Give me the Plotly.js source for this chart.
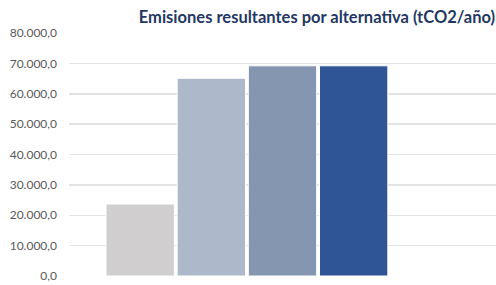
<!DOCTYPE html>
<html>
<head>
<meta charset="utf-8">
<script src="https://cdn.plot.ly/plotly-3.0.1.min.js"></script>
<style>html,body{margin:0;padding:0;background:#fff}#chart{width:496px;height:285px}</style>
</head>
<body>
<div id="chart"></div>
<script>
const categories = ["Alternativa 1", "Alternativa 2", "Alternativa 3", "Alternativa 4"];
const values = [23700, 65100, 69200, 69200];
const colors = ["#d0cece", "#adb9ca", "#8496b0", "#2f5597"];
const yTicks = [0, 10000, 20000, 30000, 40000, 50000, 60000, 70000, 80000];

const trace = {
  type: "bar",
  x: categories.map((c, i) => i),
  y: values,
  text: categories,
  hoverinfo: "text+y",
  textposition: "none",
  width: 0.96,
  marker: { color: colors, line: { color: "#ffffff", width: 1 } }
};

const layout = {
  width: 496, height: 285,
  margin: { l: 69, r: 0, t: 33, b: 9, pad: 0 },
  paper_bgcolor: "#ffffff", plot_bgcolor: "#ffffff",
  separators: ",.",
  font: { family: "Lato, 'Open Sans', sans-serif", size: 11, color: "#595959" },
  title: {
    text: "<b>Emisiones resultantes por alternativa (tCO2/año)</b>",
    font: { family: "Lato, 'Open Sans', sans-serif", size: 16.5, color: "#1f3864" },
    x: 0.998, xanchor: "right", xref: "container",
    y: 0.94, yanchor: "middle", yref: "container"
  },
  showlegend: false,
  xaxis: { range: [-1, 5], showticklabels: false, showgrid: false, zeroline: false, showline: false, ticks: "" },
  yaxis: {
    range: [0, 80000], tickvals: yTicks, tickformat: ",.1f",
    showgrid: true, gridcolor: "#e3e3e3", gridwidth: 1.5,
    zeroline: false, showline: false, ticks: "",
    ticklabelstandoff: 11,
    tickfont: { size: 12, color: "#595959" }
  },
  bargap: 0.04
};

Plotly.newPlot("chart", [trace], layout, { displayModeBar: false, staticPlot: true });
</script>
</body>
</html>
